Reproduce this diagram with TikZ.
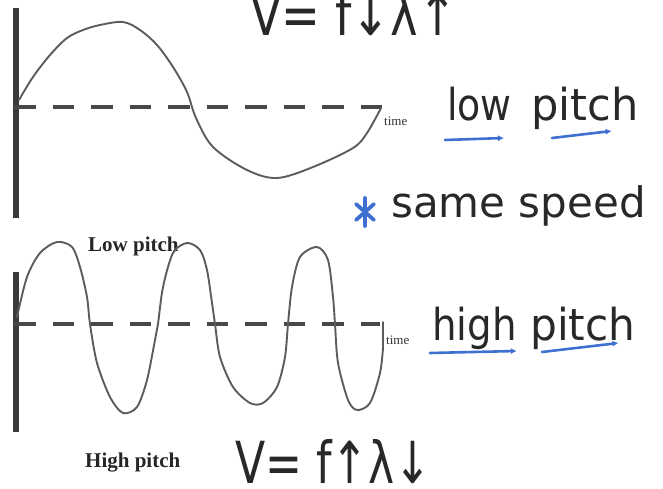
\documentclass[tikz,border=0pt]{standalone}
\usepackage{fontspec}
\usepackage{xcolor}
\usepackage{tikz}
\usetikzlibrary{arrows.meta,positioning}
\setmainfont{Liberation Serif}
\newfontfamily\handfont{DejaVu Sans}
\definecolor{wvaxis}{RGB}{58,58,58}
\definecolor{wvdash}{RGB}{72,72,72}
\definecolor{wvline}{RGB}{92,92,92}
\definecolor{wvink}{RGB}{40,40,40}
\definecolor{wvblue}{RGB}{62,112,210}
\tikzset{
  axisbar/.style={draw=wvaxis, line width=6pt},
  midline/.style={draw=wvdash, line width=4.5pt, dash pattern=on 21.5pt off 17pt},
  waveline/.style={draw=wvline, line width=1.9pt, line join=round, line cap=round},
  printlbl/.style={font=\fontsize{21}{25}\selectfont\bfseries, text=black!85,
    inner sep=0pt, anchor=base west},
  timelbl/.style={font=\fontsize{13}{15}\selectfont, text=black!80,
    inner sep=0pt, anchor=base west},
  hand/.style={font=\handfont\fontsize{44}{50}\selectfont, text=wvink,
    inner sep=0pt, anchor=base west},
  formula/.style={hand, font=\handfont\fontsize{58}{64}\selectfont},
  uline/.style={-{Latex[length=6pt,width=6pt]}, draw=wvblue, line width=2.6pt, line cap=round},
  starmark/.style={draw=wvblue, line width=3.8pt, line cap=round}
}

\begin{document}
\begin{tikzpicture}[x=1pt, y=1pt]
  \useasboundingbox (0,0) rectangle (663,-489);
  \clip (0,0) rectangle (663,-489);

  % low pitch wave
  \draw[axisbar] (16,-8) -- (16,-218);
  \draw[midline] (14,-107) -- (383,-107);
  \draw[waveline] plot[smooth, tension=0.55] coordinates {
    (19,-100) (33,-77) (50,-55) (67,-38) (83,-30) (100,-25) (123,-22)
    (140,-30) (157,-45) (173,-67) (187,-92) (196,-118) (213,-147)
    (247,-170) (277,-178) (313,-167) (353,-148) (367,-133) (381,-108)};
  \node[timelbl] (timeA) at (384,-126) {time};
  \node[printlbl] (lowlbl) at (88,-251) {Low pitch};

  % high pitch wave
  \draw[axisbar] (16,-272) -- (16,-432);
  \draw[midline] (14,-324) -- (380,-324);
  \draw[waveline] plot[smooth, tension=0.5] coordinates {
    (17,-317) (27,-277) (40,-253) (57,-242) (72,-247) (80,-267) (87,-297)
    (90,-324) (97,-363) (110,-397) (123,-413) (137,-407) (147,-380)
    (155,-340) (158,-324) (163,-287) (173,-253) (187,-243) (200,-250)
    (207,-270) (212,-303) (215,-324) (220,-357) (233,-387) (250,-403)
    (263,-403) (277,-387) (285,-357) (288,-324) (292,-287) (300,-257)
    (317,-247) (328,-260) (333,-297) (335,-324) (338,-363) (348,-400)
    (357,-410) (370,-403) (380,-373) (383,-348)} -- (383,-322);
  \node[timelbl] (timeB) at (386,-344) {time};
  \node[printlbl] (highlbl) at (85,-467) {High pitch};

  % handwritten notes
  \node[formula] (topeq) at (250,-36) {\scalebox{0.8}[1]{V= f↓λ↑}};
  \node[hand] (lowword) at (447,-121) {\scalebox{0.86}[1]{low}};
  \node[hand] (pitchA) at (531,-121) {\scalebox{0.98}[1]{pitch}};
  \draw[uline] ([shift={(-2,-19)}]lowword.base west) -- ([shift={(-8,-17)}]lowword.base east);
  \draw[uline] ([shift={(21,-17)}]pitchA.base west) -- ([shift={(-27,-10)}]pitchA.base east);

  \coordinate (star) at (365,-212);
  \draw[starmark] ([yshift=14]star) -- ([yshift=-14]star);
  \draw[starmark] ([shift={(-9,8)}]star) -- ([shift={(9,-8)}]star);
  \draw[starmark] ([shift={(9,8)}]star) -- ([shift={(-9,-8)}]star);
  \node[hand, font=\handfont\fontsize{42}{48}\selectfont] (samespeed) at (391,-217) {same speed};

  \node[hand] (highword) at (432,-340) {\scalebox{0.88}[1]{high}};
  \node[hand] (pitchB) at (530,-340) {\scalebox{0.96}[1]{pitch}};
  \draw[uline] ([shift={(-2,-13)}]highword.base west) -- ([shift={(0,-11)}]highword.base east);
  \draw[uline] ([shift={(12,-12)}]pitchB.base west) -- ([shift={(-17,-3)}]pitchB.base east);

  \node[formula] (boteq) at (235,-483) {\scalebox{0.76}[1]{V= f↑λ↓}};
\end{tikzpicture}
\end{document}
